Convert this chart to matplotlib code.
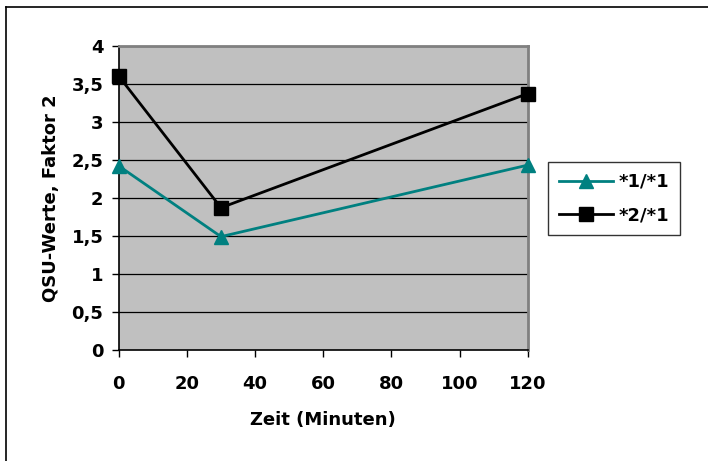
import matplotlib.pyplot as plt
import matplotlib.lines as mlines

plt.rcParams['font.family'] = ['DejaVu Sans']
plt.rcParams['font.weight'] = 'bold'

zeit = [0, 30, 120]
werte_11 = [2.42, 1.49, 2.43]
werte_21 = [3.60, 1.87, 3.37]
labels = ["*1/*1", "*2/*1"]
y_ticks = [0, 0.5, 1, 1.5, 2, 2.5, 3, 3.5, 4]
y_ticklabels = ["0", "0,5", "1", "1,5", "2", "2,5", "3", "3,5", "4"]
x_ticks = [0, 20, 40, 60, 80, 100, 120]

fig = plt.figure(figsize=(7.08, 4.61), dpi=100)
ax = fig.add_axes([0.1677, 0.2408, 0.5776, 0.6601])
ax.set_facecolor("#c0c0c0")

for y in y_ticks[1:]:
    ax.axhline(y, color="black", lw=0.9, zorder=1)

ax.plot(zeit, werte_11, color="#008080", lw=2, marker="^", ms=10,
        label=labels[0], zorder=3, clip_on=False)
ax.plot(zeit, werte_21, color="black", lw=2, marker="s", ms=10,
        label=labels[1], zorder=3, clip_on=False)

ax.set_xlim(0, 120)
ax.set_ylim(0, 4)
ax.set_xticks(x_ticks)
ax.set_yticks(y_ticks)
ax.set_yticklabels(y_ticklabels)
ax.tick_params(labelsize=13, length=5, width=1, direction="out", pad=6)
ax.tick_params(axis="x", pad=13)

for s in ["top", "right"]:
    ax.spines[s].set_color("#808080")
    ax.spines[s].set_linewidth(2)
for s in ["left", "bottom"]:
    ax.spines[s].set_color("black")
    ax.spines[s].set_linewidth(1.2)

ax.set_xlabel("Zeit (Minuten)", fontsize=13, fontweight="bold", labelpad=13)
ax.set_ylabel("QSU-Werte, Faktor 2", fontsize=13, fontweight="bold", labelpad=8)

leg = fig.legend(loc="upper left", bbox_to_anchor=(548 / 708, 1 - 162 / 461),
                 fontsize=13, frameon=True, fancybox=False, edgecolor="black",
                 handlelength=3.0, borderpad=0.6, labelspacing=0.85,
                 handletextpad=0.3, borderaxespad=0)
leg.get_frame().set_linewidth(1)

# outer chart border (left and top edges are visible)
fig.add_artist(mlines.Line2D([6 / 708, 6 / 708], [0, 1 - 7 / 461], color="black", lw=1.2))
fig.add_artist(mlines.Line2D([6 / 708, 1], [1 - 7 / 461, 1 - 7 / 461], color="black", lw=1.2))

fig.savefig("out.png", dpi=100)
